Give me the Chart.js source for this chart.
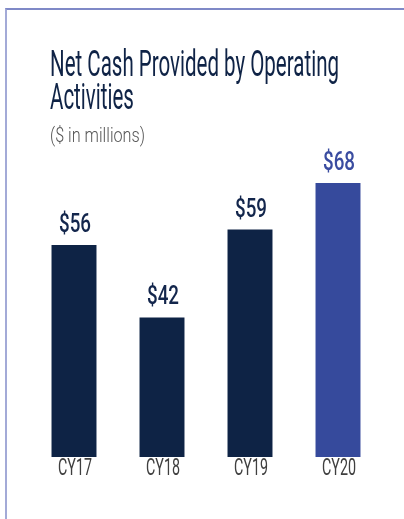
<!DOCTYPE html>
<html>
<head>
<meta charset="utf-8">
<script src="https://cdn.jsdelivr.net/npm/chart.js@4.4.1/dist/chart.umd.min.js"></script>
<style>
  html, body { margin: 0; padding: 0; background: #fff; }
  #wrap { position: relative; width: 404px; height: 519px; overflow: hidden; }
  #frame { position: absolute; left: 5px; top: 8px; width: 440px; height: 560px;
           border-left: 2px solid #a3aad7; border-top: 2px solid #7f89c7; }
  #chart { position: absolute; left: 0; top: 0; }
  .txt { position: absolute; left: 50px; white-space: nowrap; transform-origin: 0 0; font-family: Roboto, sans-serif; }
  #title { top: 47px; font-size: 37px; line-height: 33px; color: #0f2346; }
  #subtitle { top: 125px; font-size: 21px; line-height: 21px; font-weight: 300; color: #555555; }
</style>
</head>
<body>
<div id="wrap">
  <div id="frame"></div>
  <canvas id="chart" width="404" height="519"></canvas>
  <div id="title" class="txt"><span id="t1">Net Cash Provided by Operating</span><br>Activities</div>
  <div id="subtitle" class="txt"><span id="s1">($ in millions)</span></div>
</div>
<script>
/**
 * Chart data
 */
const years = ['CY17', 'CY18', 'CY19', 'CY20'];
const netCash = [56, 42, 59, 68];

const navy = '#0e2345';
const blue = '#364a9c';
const barColors = [navy, navy, navy, blue];
const labelColors = ['#13264c', '#13264c', '#13264c', '#3a4ca0'];

/**
 * Squeeze the title lines to the condensed width of the original
 */
function condense (boxId, spanId, target) {
  const w = document.getElementById(spanId).getBoundingClientRect().width;
  document.getElementById(boxId).style.transform = 'scaleX(' + (target / w) + ')';
}
condense('title', 't1', 289);
condense('subtitle', 's1', 95);

/**
 * Draws condensed value labels over the bars and the year labels under them
 */
const barLabels = {
  id: 'barLabels',
  afterDatasetsDraw (chart) {
    const ctx = chart.ctx;
    const bars = chart.getDatasetMeta(0).data;
    const xScale = chart.scales.x;

    ctx.save();
    ctx.textAlign = 'center';
    ctx.textBaseline = 'alphabetic';

    ctx.font = '500 25px Roboto';
    const valScale = 32 / ctx.measureText('$56').width;
    bars.forEach((bar, i) => {
      ctx.save();
      ctx.translate(bar.x + 1, bar.y - 13);
      ctx.scale(valScale, 1);
      ctx.fillStyle = labelColors[i];
      ctx.fillText('$' + netCash[i], 0, 0);
      ctx.restore();
    });

    ctx.font = '400 23px Roboto';
    const tickScale = 34 / ctx.measureText('CY17').width;
    years.forEach((y, i) => {
      ctx.save();
      ctx.translate(xScale.getPixelForValue(i) + 1, 475);
      ctx.scale(tickScale, 1);
      ctx.fillStyle = '#3f3f3f';
      ctx.fillText(y, 0, 0);
      ctx.restore();
    });
    ctx.restore();
  }
};

const config = {
  type: 'bar',
  data: {
    labels: years,
    datasets: [{
      data: netCash,
      backgroundColor: barColors,
      borderWidth: 0,
      categoryPercentage: 1,
      barPercentage: 0.511
    }]
  },
  options: {
    responsive: false,
    animation: false,
    layout: { padding: { left: 30, right: 22, top: 121, bottom: 62 } },
    plugins: { legend: { display: false }, tooltip: { enabled: false } },
    scales: {
      x: { display: false, grid: { display: false } },
      y: { display: false, min: 15, max: 80, grid: { display: false } }
    }
  },
  plugins: [barLabels]
};

const myChart = new Chart(document.getElementById('chart'), config);
</script>
</body>
</html>
